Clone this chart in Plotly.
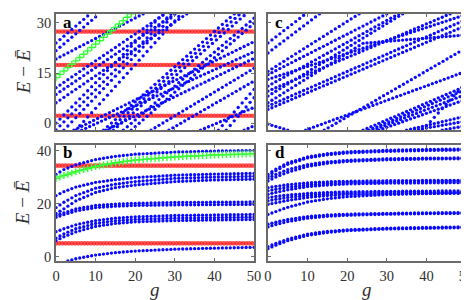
import numpy as np
import plotly.graph_objects as go

# ---------------- data ----------------
G_TICKS = [0, 10, 20, 30, 40, 50]
Y_TICKS_TOP = [0, 15, 30]
Y_TICKS_BOT = [0, 20, 40]
PANEL_LABELS = ["a", "b", "c", "d"]

# panel a: blue lines as (g, E) knots
A_BLUE = [
    [(0, 24.0), (8.6, 32.7)],
    [(0, 21.7), (10.9, 32.7)],
    [(0, 19.2), (22, 32.7)],
    [(0, 10.6), (27.5, 32.7)],
    [(0, 8.6), (30, 32.7)],
    [(0, 6.1), (33, 32.7)],
    [(0, 0.0), (27, 32.7)],
    [(0, -2.0), (29, 32.7)],
    [(2, -2.1), (30, 32.7)],
    [(5, -2.1), (31.6, 32.7)],
    [(4.5, -2.1), (50, 24.4)],
    [(6.5, -2.1), (50, 21.4)],
    [(12.6, -2.1), (50, 19.4)],
    [(12.0, -2.1), (45, 32.7)],
    [(13.2, -2.1), (46.5, 32.7)],
    [(14.5, -2.1), (48, 32.7)],
    [(17, -2.1), (50, 31.4)],
    [(19, -2.1), (50, 29.9)],
    [(24, -2.1), (50, 16.4)],
    [(28.5, -2.1), (50, 12.6)],
    [(36.5, -2.1), (50, 4.7)],
    [(41, -2.1), (50, 10.1)],
    [(43, -2.1), (50, 7.6)],
    [(47.5, -2.1), (50, -0.8)],
]
A_RED = [27.4, 17.4, 2.2]
A_GREEN = [(0, 13.6), (19, 32.7)]

# panel c: blue lines as (g, E) knots
C_BLUE = [
    [(0, 24.0), (9.5, 32.7)],
    [(0, 21.0), (13, 32.7)],
    [(0, 15.5), (23, 32.7)],
    [(0, 14.5), (30, 32.7)],
    [(0, 13.1), (50, 32.5)],
    [(0, 11.1), (33, 32.7)],
    [(0, 9.6), (46, 32.7)],
    [(0, 8.1), (34, 32.7)],
    [(0, 6.1), (24, 23.9), (50, 26.4)],
    [(0, 5.1), (50, 31.0)],
    [(0, 4.1), (50, 29.2)],
    [(0, -0.3), (5, -2.1)],
    [(14.2, -2.1), (50, 22.5)],
    [(9.5, -2.1), (50, 15.5)],
    [(24, -2.1), (50, 11.1)],
    [(25.5, -2.1), (50, 10.1)],
    [(26.5, -2.1), (50, 8.6)],
    [(28, -2.1), (50, 7.1)],
    [(39, -2.1), (50, 12.0)],
    [(35, -2.1), (50, 2.1)],
    [(37, -2.1), (50, 0.6)],
    [(44, -2.1), (50, -0.8)],
]

# panels b, d: curves sampled at these g knots
BD_G = [0, 2, 5, 10, 15, 20, 30, 40, 50]
B_BLUE = [
    [31.0, 32.8, 34.6, 36.6, 37.8, 38.6, 39.4, 39.8, 40.0],
    [23.0, 24.5, 26.2, 28.0, 29.0, 29.8, 30.7, 31.1, 31.4],
    [18.5, 20.5, 23.0, 25.8, 27.3, 28.3, 29.5, 30.0, 30.3],
    [16.3, 18.0, 21.0, 24.2, 26.0, 27.0, 28.3, 28.9, 29.2],
    [15.5, 16.5, 18.0, 19.3, 19.8, 20.1, 20.4, 20.5, 20.6],
    [14.8, 15.8, 17.2, 18.5, 19.0, 19.3, 19.5, 19.6, 19.7],
    [9.4, 10.5, 12.0, 13.6, 14.5, 15.0, 15.5, 15.7, 15.9],
    [7.0, 8.6, 10.5, 12.5, 13.5, 14.0, 14.5, 14.7, 14.9],
    [6.0, 7.5, 9.3, 11.4, 12.5, 13.1, 13.6, 13.8, 14.0],
]
B_LOW_G = [3, 5, 10, 15, 20, 30, 40, 50]
B_LOW_E = [-1.6, -0.8, 0.6, 1.5, 2.1, 2.8, 3.2, 3.5]
B_GREEN = [29.5, 30.6, 32.0, 34.0, 35.4, 36.4, 37.6, 38.3, 38.8]
B_RED = [34.3, 5.0]

D_BLUE = [
    [31.0, 33.0, 35.3, 37.6, 38.8, 39.5, 40.1, 40.4, 40.6],
    [30.3, 32.4, 34.8, 37.2, 38.4, 39.1, 39.7, 40.0, 40.2],
    [29.5, 31.0, 32.8, 34.7, 35.7, 36.3, 36.9, 37.1, 37.2],
    [28.5, 30.0, 31.8, 34.0, 35.2, 35.9, 36.5, 36.8, 36.9],
    [26.0, 26.5, 27.1, 27.8, 28.2, 28.4, 28.6, 28.7, 28.8],
    [24.8, 25.4, 26.2, 27.1, 27.6, 27.9, 28.1, 28.2, 28.3],
    [23.5, 24.2, 25.2, 26.4, 27.0, 27.4, 27.7, 27.8, 27.9],
    [22.2, 22.7, 23.2, 23.8, 24.2, 24.4, 24.6, 24.7, 24.8],
    [21.0, 21.6, 22.3, 23.1, 23.6, 23.9, 24.1, 24.2, 24.3],
    [19.7, 20.3, 21.2, 22.3, 23.0, 23.4, 23.7, 23.8, 23.9],
    [15.9, 17.0, 18.6, 20.6, 21.8, 22.6, 23.4, 23.8, 24.0],
    [12.2, 13.0, 14.0, 15.1, 15.7, 16.0, 16.3, 16.5, 16.6],
    [11.2, 12.1, 13.2, 14.5, 15.2, 15.6, 16.0, 16.2, 16.3],
    [3.8, 5.0, 6.6, 8.5, 9.5, 10.1, 10.7, 11.0, 11.2],
    [3.0, 4.3, 6.0, 8.0, 9.1, 9.8, 10.4, 10.7, 10.9],
]

# ---------------- styling ----------------
BLUE = "#0a0aff"
RED = "rgba(255,20,20,0.75)"
GREEN = "#33ff33"
FONT = "Liberation Serif"
AX_COLOR = "#6a6a6a"
TXT = "#303030"

W, H = 469, 300
ML, MR, MT, MB = 48, 9, 4, 47
PW, PH = W - ML - MR, H - MT - MB


def px_x(x0, x1):
    return [(x0 - ML) / PW, (x1 - ML) / PW]


def px_y(y0, y1):
    return [(H - MB - y1) / PH, (H - MB - y0) / PH]


fig = go.Figure()


def sample(knots, step):
    gk = [k[0] for k in knots]
    ek = [k[1] for k in knots]
    g = np.arange(gk[0], gk[-1] + 1e-9, step)
    return g, np.interp(g, gk, ek)


def add_blue(gs, es, xa, ya, size=3.3):
    fig.add_trace(go.Scatter(x=gs, y=es, mode="markers", xaxis=xa, yaxis=ya,
                             marker=dict(color=BLUE, size=size, line=dict(width=0)),
                             showlegend=False, hoverinfo="skip"))


def add_red(level, xa, ya, step):
    g = np.arange(0, 50 + 1e-9, step)
    fig.add_trace(go.Scatter(x=g, y=np.full_like(g, level), mode="markers", xaxis=xa, yaxis=ya,
                             marker=dict(color=RED, size=4.6, line=dict(width=0)),
                             showlegend=False, hoverinfo="skip"))


def add_green(gs, es, xa, ya):
    fig.add_trace(go.Scatter(x=gs, y=es, mode="markers", xaxis=xa, yaxis=ya,
                             marker=dict(color=GREEN, size=5, symbol="cross-thin",
                                         line=dict(width=1.4, color=GREEN)),
                             showlegend=False, hoverinfo="skip"))


STEP_AC = 1.0

# panel a
for lv in A_RED:
    add_red(lv, "x", "y", 0.8)
for ln in A_BLUE:
    g, e = sample(ln, STEP_AC)
    add_blue(g, e, "x", "y")
g, e = sample(A_GREEN, 1.0)
add_green(g, e, "x", "y")

# panel c
for ln in C_BLUE:
    g, e = sample(ln, STEP_AC)
    add_blue(g, e, "x2", "y2")

# panel b
for lv in B_RED:
    add_red(lv, "x3", "y3", 0.8)
gg = np.arange(0, 51, 1.0)
for cv in B_BLUE:
    add_blue(gg, np.interp(gg, BD_G, cv), "x3", "y3")
gl = np.arange(B_LOW_G[0], 51, 1.0)
add_blue(gl, np.interp(gl, B_LOW_G, B_LOW_E), "x3", "y3")
add_green(gg, np.interp(gg, BD_G, B_GREEN), "x3", "y3")

# panel d
for cv in D_BLUE:
    add_blue(gg, np.interp(gg, BD_G, cv), "x4", "y4")

# ---------------- axes ----------------
col1 = px_x(48, 247)
col2 = px_x(261, 460)
row1 = px_y(4, 121)
row2 = px_y(136, 253)
YR_TOP = [-2.08, 32.67]
YR_BOT = [-1.65, 42.1]

common = dict(showline=True, mirror="ticks", linecolor=AX_COLOR, linewidth=1.6,
              ticks="inside", ticklen=3, tickwidth=1, tickcolor=AX_COLOR,
              showgrid=False, zeroline=False,
              tickfont=dict(family=FONT, size=14.5, color=TXT))

xcommon = dict(common, range=[0, 50], tickvals=G_TICKS)

layout = dict(
    width=W, height=H,
    margin=dict(l=ML, r=MR, t=MT, b=MB),
    paper_bgcolor="white", plot_bgcolor="white",
    font=dict(family=FONT),
    xaxis=dict(xcommon, domain=col1, anchor="y", showticklabels=False),
    yaxis=dict(common, domain=row1, anchor="x", range=YR_TOP, tickvals=Y_TICKS_TOP),
    xaxis2=dict(xcommon, domain=col2, anchor="y2", showticklabels=False),
    yaxis2=dict(common, domain=row1, anchor="x2", range=YR_TOP, tickvals=Y_TICKS_TOP,
                showticklabels=False),
    xaxis3=dict(xcommon, domain=col1, anchor="y3", ticklabelstandoff=1),
    yaxis3=dict(common, domain=row2, anchor="x3", range=YR_BOT, tickvals=Y_TICKS_BOT),
    xaxis4=dict(xcommon, domain=col2, anchor="y4", ticklabelstandoff=1),
    yaxis4=dict(common, domain=row2, anchor="x4", range=YR_BOT, tickvals=Y_TICKS_BOT,
                showticklabels=False),
)
fig.update_layout(**layout)

ann = []
for lab, xr, yr in zip(PANEL_LABELS, ["x", "x3", "x2", "x4"], ["y", "y3", "y2", "y4"]):
    ann.append(dict(text="<b>%s</b>" % lab, xref=xr + " domain", yref=yr + " domain",
                    x=0.025, y=1.03, xanchor="left", yanchor="top", showarrow=False,
                    font=dict(family=FONT, size=17, color="black")))
ytitle = "<i>E</i> − <i>Ē</i>"
for yc in [(H - MB - 62.5) / PH, (H - MB - 194.5) / PH]:
    ann.append(dict(text=ytitle, xref="paper", yref="paper", x=(15 - ML) / PW, y=yc,
                    textangle=-90, showarrow=False, xanchor="center", yanchor="middle",
                    font=dict(family=FONT, size=19, color=TXT)))
for xc in [(147.5 - ML) / PW, (360.5 - ML) / PW]:
    ann.append(dict(text="<i>g</i>", xref="paper", yref="paper", x=xc, y=(H - MB - 282) / PH,
                    showarrow=False, xanchor="center", yanchor="middle",
                    font=dict(family=FONT, size=19, color=TXT)))
fig.update_layout(annotations=ann)

fig.write_html("out.html")
